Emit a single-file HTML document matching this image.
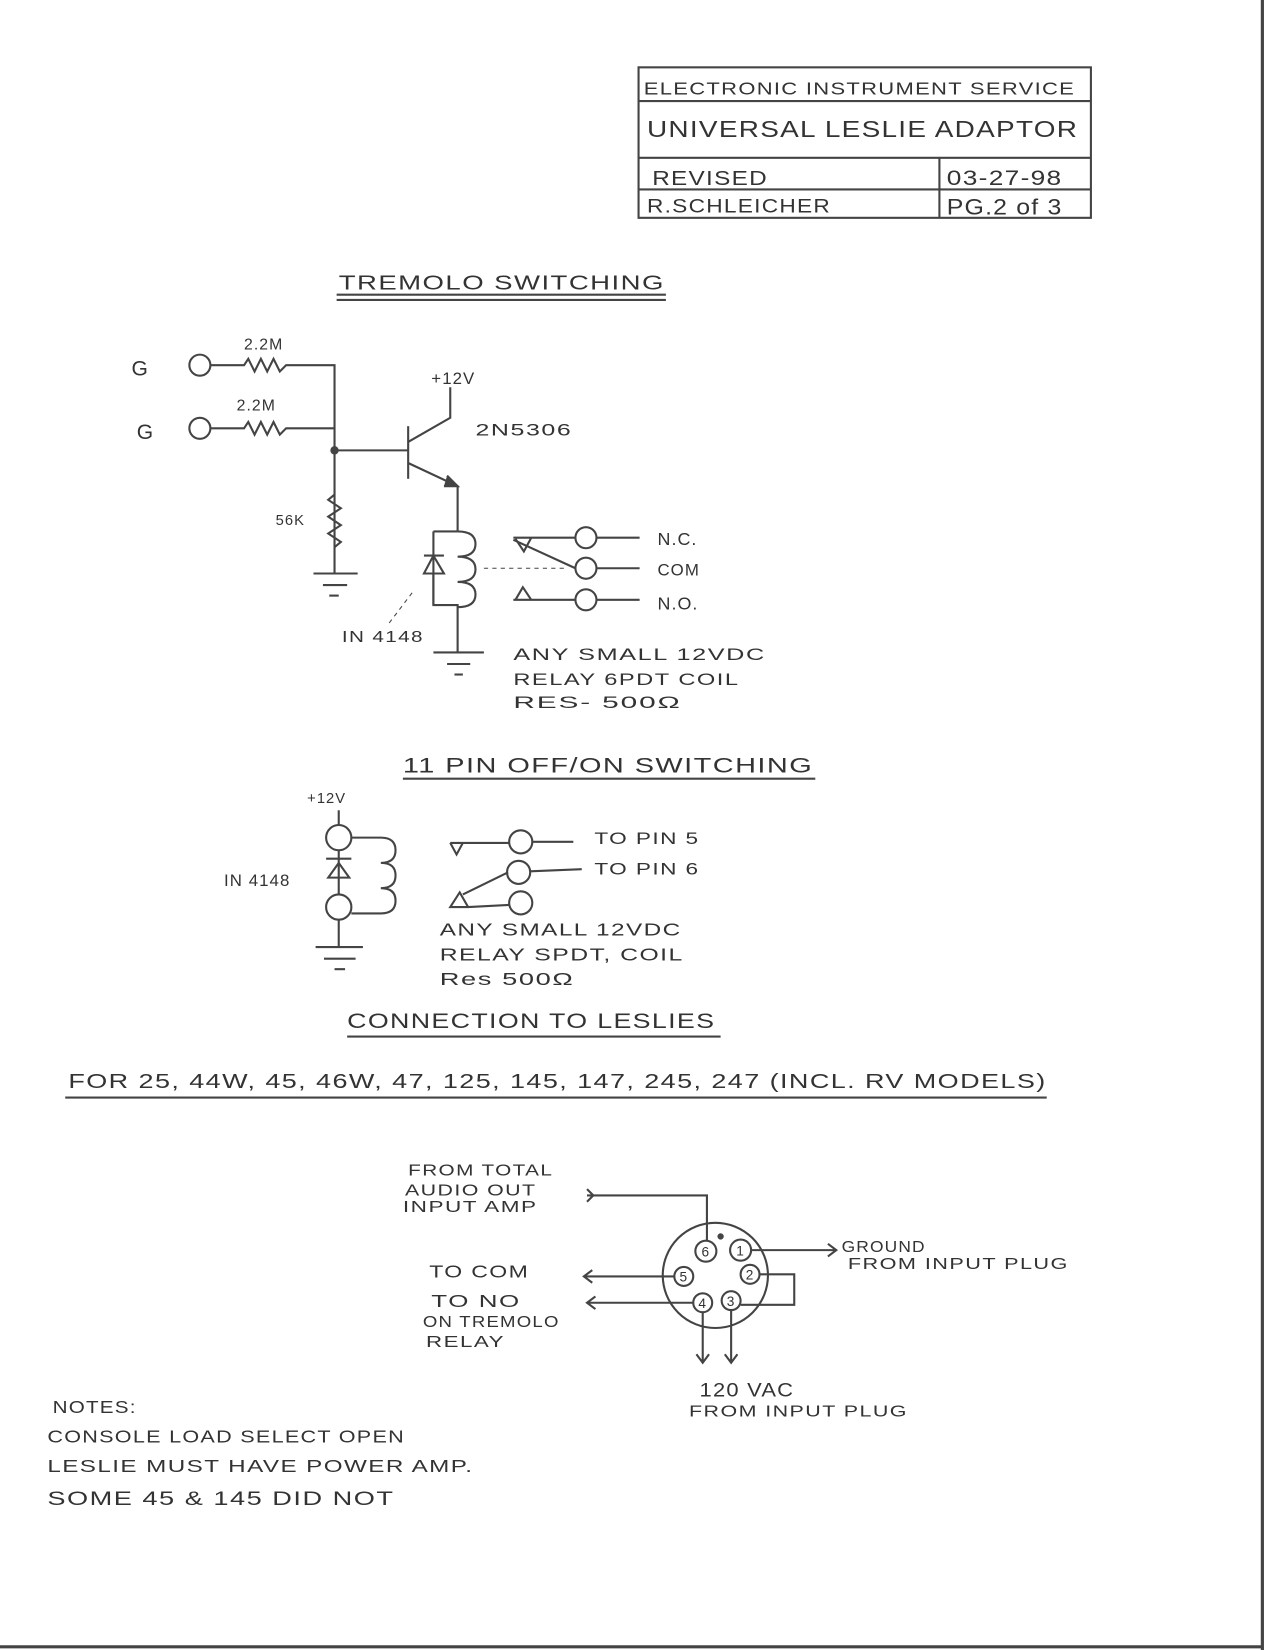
<!DOCTYPE html>
<html><head><meta charset="utf-8"><style>
html,body{margin:0;padding:0;background:#fff}
svg{display:block}
text{font-family:"Liberation Sans",sans-serif;fill:#333;letter-spacing:1px}
</style></head><body>
<svg width="1275" height="1650" viewBox="0 0 1212 1568" preserveAspectRatio="none" xmlns="http://www.w3.org/2000/svg">
<rect width="1212" height="1568" fill="#fff"/>
<g stroke="#444" fill="none" stroke-width="2">
<line x1="1200" y1="0" x2="1200" y2="1568" stroke-width="3"/>
<line x1="0" y1="1565" x2="1200" y2="1565" stroke-width="3"/>
<rect x="607" y="64" width="430" height="143"/>
<line x1="607" y1="96" x2="1037" y2="96"/>
<line x1="607" y1="150" x2="1037" y2="150"/>
<line x1="607" y1="180" x2="1037" y2="180"/>
<line x1="893" y1="150" x2="893" y2="207"/>
<line x1="320" y1="280" x2="633" y2="280"/>
<line x1="320" y1="285" x2="633" y2="285"/>
<circle cx="190" cy="347" r="10"/>
<circle cx="190" cy="407" r="10"/>
<path d="M200 347 H232 l4 -6 l6 12 l6 -12 l6 12 l6 -12 l6 12 l6 -6 H318 V545"/>
<path d="M200 407 H232 l4 -6 l6 12 l6 -12 l6 12 l6 -12 l6 12 l6 -6 H318"/>
<circle cx="318" cy="428" r="3" fill="#444"/>
<line x1="318" y1="428" x2="388" y2="428"/>
<line x1="388" y1="405" x2="388" y2="455"/>
<path d="M388 420 L428 397 V368"/>
<path d="M388 440 L435 462 V505"/>
<path d="M425 452 L435 462 L422 462" fill="#444"/>
<path d="M318 470 l-6 5 l12 8 l-12 8 l12 8 l-12 8 l12 8 l-6 5"/>
<line x1="298" y1="545" x2="340" y2="545"/>
<line x1="307" y1="556" x2="330" y2="556"/>
<line x1="313" y1="566" x2="322" y2="566"/>
<path d="M412 505 H435"/>
<path d="M435 505 q17 0 17 12 q0 12 -17 12 q17 0 17 12 q0 12 -17 12 q17 0 17 12 q0 12 -17 12"/>
<path d="M412 505 V575 H435 V620"/>
<line x1="403" y1="528" x2="422" y2="528"/>
<path d="M403 545 L412 528 L422 545 Z"/>
<line x1="412" y1="545" x2="412" y2="575"/>
<line x1="412" y1="620" x2="460" y2="620"/>
<line x1="425" y1="631" x2="447" y2="631"/>
<line x1="432" y1="641" x2="440" y2="641"/>
<line x1="370" y1="592" x2="392" y2="563" stroke-dasharray="4 4" stroke-width="1"/>
<line x1="460" y1="540" x2="540" y2="540" stroke-dasharray="4 4" stroke-width="1"/>
<circle cx="557" cy="511" r="10"/><circle cx="557" cy="540" r="10"/><circle cx="557" cy="570" r="10"/>
<line x1="567" y1="511" x2="608" y2="511"/><line x1="567" y1="540" x2="608" y2="540"/><line x1="567" y1="570" x2="608" y2="570"/>
<path d="M488 511 H547 M490 512 L498 524 L505 511"/>
<path d="M488 513 L547 540"/>
<path d="M488 570 H547 M490 570 L497 558 L505 570"/>
<line x1="383" y1="740" x2="775" y2="740"/>
<line x1="322" y1="770" x2="322" y2="784"/>
<circle cx="322" cy="796" r="12"/>
<circle cx="322" cy="862" r="12"/>
<path d="M334 796 H362 q14 0 14 12 q0 12 -14 12 q14 0 14 12 q0 12 -14 12 q14 0 14 12 q0 12 -14 12 H334"/>
<line x1="322" y1="808" x2="322" y2="850"/>
<line x1="310" y1="816" x2="334" y2="816"/>
<path d="M312 834 L322 820 L332 834 Z"/>
<line x1="322" y1="874" x2="322" y2="900"/>
<line x1="300" y1="900" x2="345" y2="900"/>
<line x1="308" y1="911" x2="338" y2="911"/>
<line x1="318" y1="921" x2="328" y2="921"/>
<circle cx="495" cy="800" r="11"/><circle cx="493" cy="829" r="11"/><circle cx="495" cy="858" r="11"/>
<line x1="506" y1="800" x2="545" y2="800"/><line x1="504" y1="828" x2="553" y2="826"/>
<path d="M428 801 H484 M428 801 L434 812 L440 801"/>
<path d="M428 862 L437 848 L445 862 Z M440 850 L483 829 M445 862 L484 860"/>
<line x1="330" y1="985" x2="685" y2="985"/>
<line x1="62" y1="1043" x2="995" y2="1043"/>
<circle cx="680" cy="1212" r="50"/>
<circle cx="671" cy="1189" r="10"/><circle cx="704" cy="1188" r="10"/>
<circle cx="650" cy="1213" r="9"/><circle cx="713" cy="1211" r="9"/>
<circle cx="668" cy="1238" r="9"/><circle cx="695" cy="1236" r="9"/>
<circle cx="685" cy="1175" r="2" fill="#444"/>
<path d="M672 1179 V1136 H558 M558 1130 L564 1136 L558 1142"/>
<path d="M714 1188 H795 M787 1182 L795 1188 L787 1194"/>
<path d="M641 1213 H555 M563 1207 L555 1213 L563 1219"/>
<path d="M659 1238 H558 M566 1232 L558 1238 L566 1244"/>
<path d="M722 1211 H755 V1240 H704"/>
<path d="M668 1247 V1295 M662 1287 L668 1295 L674 1287"/>
<path d="M695 1245 V1295 M689 1287 L695 1295 L701 1287"/>
</g>
<g font-size="13" text-anchor="middle" style="letter-spacing:0">
<text x="671" y="1194">6</text><text x="704" y="1193">1</text><text x="650" y="1218">5</text>
<text x="713" y="1216">2</text><text x="668" y="1243">4</text><text x="695" y="1241">3</text>
</g>
<g font-size="17">
<text x="612" y="90" textLength="410" lengthAdjust="spacingAndGlyphs">ELECTRONIC INSTRUMENT SERVICE</text>
<text x="615" y="130" font-size="22" textLength="410" lengthAdjust="spacingAndGlyphs">UNIVERSAL LESLIE ADAPTOR</text>
<text x="620" y="176" fill="#888" font-size="19" textLength="110" lengthAdjust="spacingAndGlyphs">REVISED</text>
<text x="900" y="176" font-size="20" textLength="110" lengthAdjust="spacingAndGlyphs">03-27-98</text>
<text x="615" y="202" font-size="18" textLength="175" lengthAdjust="spacingAndGlyphs">R.SCHLEICHER</text>
<text x="900" y="204" font-size="21" textLength="110" lengthAdjust="spacingAndGlyphs">PG.2 of 3</text>
<text x="322" y="275" font-size="19" textLength="310" lengthAdjust="spacingAndGlyphs">TREMOLO SWITCHING</text>
<text x="125" y="357" font-size="20">G</text>
<text x="130" y="417" font-size="20">G</text>
<text x="232" y="332" font-size="15">2.2M</text>
<text x="225" y="390" font-size="15">2.2M</text>
<text x="410" y="365" font-size="16">+12V</text>
<text x="452" y="414" font-size="16" textLength="92" lengthAdjust="spacingAndGlyphs">2N5306</text>
<text x="262" y="499" font-size="14">56K</text>
<text x="325" y="610" font-size="15" textLength="78" lengthAdjust="spacingAndGlyphs">IN 4148</text>
<text x="625" y="518" font-size="17">N.C.</text>
<text x="625" y="547" font-size="16">COM</text>
<text x="625" y="579" font-size="17">N.O.</text>
<text x="488" y="627" font-size="16" textLength="240" lengthAdjust="spacingAndGlyphs">ANY SMALL 12VDC</text>
<text x="488" y="651" font-size="16" textLength="215" lengthAdjust="spacingAndGlyphs">RELAY 6PDT COIL</text>
<text x="488" y="673" font-size="16" textLength="160" lengthAdjust="spacingAndGlyphs">RES- 500Ω</text>
<text x="383" y="734" font-size="20" textLength="390" lengthAdjust="spacingAndGlyphs">11 PIN OFF/ON SWITCHING</text>
<text x="292" y="763" font-size="14">+12V</text>
<text x="213" y="842" font-size="16">IN 4148</text>
<text x="565" y="802" font-size="16" textLength="100" lengthAdjust="spacingAndGlyphs">TO PIN 5</text>
<text x="565" y="831" font-size="16" textLength="100" lengthAdjust="spacingAndGlyphs">TO PIN 6</text>
<text x="418" y="889" font-size="17" textLength="230" lengthAdjust="spacingAndGlyphs">ANY SMALL 12VDC</text>
<text x="418" y="913" font-size="17" textLength="232" lengthAdjust="spacingAndGlyphs">RELAY SPDT, COIL</text>
<text x="418" y="936" font-size="17" textLength="128" lengthAdjust="spacingAndGlyphs">Res 500Ω</text>
<text x="330" y="977" font-size="20" textLength="350" lengthAdjust="spacingAndGlyphs">CONNECTION TO LESLIES</text>
<text x="65" y="1034" font-size="19" textLength="930" lengthAdjust="spacingAndGlyphs">FOR  25, 44W, 45, 46W, 47, 125, 145, 147, 245, 247  (INCL. RV MODELS)</text>
<text x="388" y="1117" font-size="15" textLength="138" lengthAdjust="spacingAndGlyphs">FROM TOTAL</text>
<text x="385" y="1136" font-size="15" textLength="125" lengthAdjust="spacingAndGlyphs">AUDIO OUT</text>
<text x="383" y="1152" font-size="15" textLength="128" lengthAdjust="spacingAndGlyphs">INPUT AMP</text>
<text x="408" y="1214" font-size="17" textLength="95" lengthAdjust="spacingAndGlyphs">TO COM</text>
<text x="410" y="1242" font-size="17" textLength="85" lengthAdjust="spacingAndGlyphs">TO NO</text>
<text x="402" y="1261" font-size="15" textLength="130" lengthAdjust="spacingAndGlyphs">ON TREMOLO</text>
<text x="405" y="1280" font-size="15" textLength="75" lengthAdjust="spacingAndGlyphs">RELAY</text>
<text x="800" y="1190" font-size="15" textLength="80" lengthAdjust="spacingAndGlyphs">GROUND</text>
<text x="806" y="1206" font-size="15" textLength="210" lengthAdjust="spacingAndGlyphs">FROM INPUT PLUG</text>
<text x="665" y="1327" font-size="18" textLength="90" lengthAdjust="spacingAndGlyphs">120 VAC</text>
<text x="655" y="1346" font-size="15" textLength="208" lengthAdjust="spacingAndGlyphs">FROM INPUT PLUG</text>
<text x="50" y="1343" font-size="17" textLength="80" lengthAdjust="spacingAndGlyphs">NOTES:</text>
<text x="45" y="1371" font-size="17" textLength="340" lengthAdjust="spacingAndGlyphs">CONSOLE LOAD SELECT OPEN</text>
<text x="45" y="1399" font-size="17" textLength="405" lengthAdjust="spacingAndGlyphs">LESLIE MUST HAVE POWER AMP.</text>
<text x="45" y="1430" font-size="18" textLength="330" lengthAdjust="spacingAndGlyphs">SOME 45 &amp; 145 DID NOT</text>
</g>
</svg>
</body></html>
